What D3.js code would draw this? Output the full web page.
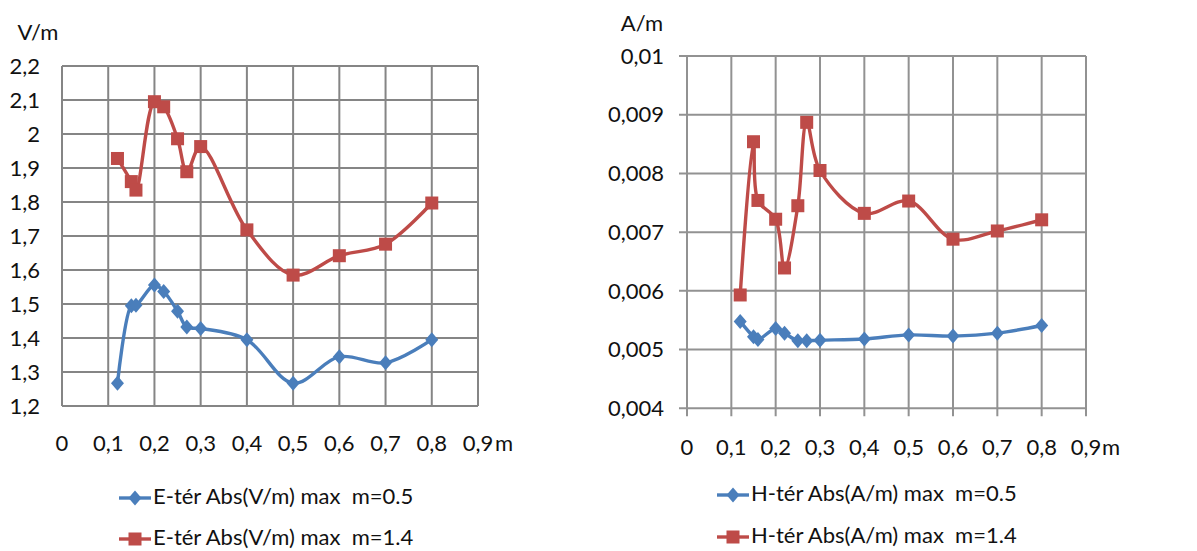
<!DOCTYPE html>
<html><head><meta charset="utf-8">
<script src="https://cdn.jsdelivr.net/npm/d3@7"></script>
<style>body{margin:0;background:#fff}svg{display:block}text{font-family:Lato,"Open Sans",sans-serif;fill:#111;white-space:pre}</style>
</head><body><svg id="c" width="1197" height="551"></svg>
<script>
const xs = [0.12,0.15,0.16,0.2,0.22,0.25,0.27,0.3,0.4,0.5,0.6,0.7,0.8];
const eLow = [1.267,1.495,1.496,1.556,1.537,1.479,1.432,1.428,1.395,1.267,1.345,1.327,1.395];
const eHigh = [1.928,1.860,1.835,2.095,2.080,1.986,1.889,1.963,1.718,1.585,1.642,1.676,1.797];
const hLow = [0.00548,0.00522,0.00517,0.00536,0.00528,0.00515,0.00515,0.00516,0.00518,0.00525,0.00523,0.00528,0.00541];
const hHigh = [0.00593,0.00854,0.00754,0.00722,0.00639,0.00745,0.00887,0.00805,0.00732,0.00753,0.00688,0.00702,0.00721];
const xTicks = [0,0.1,0.2,0.3,0.4,0.5,0.6,0.7,0.8,0.9];
const eTicks = [1.2,1.3,1.4,1.5,1.6,1.7,1.8,1.9,2.0,2.1,2.2];
const hTicks = [0.004,0.005,0.006,0.007,0.008,0.009,0.01];
const legendE = ["E-tér Abs(V/m) max  m=0.5","E-tér Abs(V/m) max  m=1.4"];
const legendH = ["H-tér Abs(A/m) max  m=0.5","H-tér Abs(A/m) max  m=1.4"];
const BLUE="#4a7ebb", RED="#be4b48";
const FS=22;
const svg = d3.select("#c");
const fmt = v => String(+v.toFixed(3)).replace(".", ",");

function chart(o){
  const g = svg.append("g");
  const x = d3.scaleLinear().domain([0,0.9]).range([o.x0,o.x1]);
  const y = d3.scaleLinear().domain(o.yd).range([o.y1,o.y0]);
  g.selectAll(".gx").data(xTicks).join("line")
    .attr("x1",d=>x(d)).attr("x2",d=>x(d)).attr("y1",o.y0).attr("y2",o.y1+o.tick)
    .attr("stroke",o.grid).attr("stroke-width",2);
  g.selectAll(".gy").data(o.ticks).join("line")
    .attr("x1",o.x0-o.tick).attr("x2",o.x1).attr("y1",d=>y(d)).attr("y2",d=>y(d))
    .attr("stroke",o.grid).attr("stroke-width",2);
  g.selectAll(".yl").data(o.ticks).join("text")
    .attr("x",o.ylx).attr("y",d=>y(d)).attr("dy","0.35em").attr("text-anchor","end")
    .attr("font-size",FS).text(d=>fmt(d));
  g.selectAll(".xl").data(xTicks).join("text")
    .attr("x",d=>x(d)).attr("y",o.xly).attr("text-anchor","middle")
    .attr("font-size",FS).text(d=>fmt(d));
  g.append("text").attr("x",x(0.9)+o.mdx).attr("y",o.xly).attr("font-size",FS).text("m");
  g.append("text").attr("x",o.unitX).attr("y",o.unitY).attr("text-anchor","middle").attr("font-size",FS).text(o.unit);
  const line = d3.line().x((d,i)=>x(xs[i])).y(d=>y(d)).curve(d3.curveCatmullRom.alpha(0.5));
  const series = [{v:o.low,c:BLUE,m:"d"},{v:o.high,c:RED,m:"s"}];
  series.forEach(s=>{
    g.append("path").attr("d",line(s.v)).attr("fill","none").attr("stroke",s.c).attr("stroke-width",3.4);
  });
  series.forEach(s=>{
    g.selectAll(null).data(s.v).join(s.m==="d"?"path":"rect")
      .each(function(d,i){
        const el=d3.select(this), cx=x(xs[i]), cy=y(d);
        if(s.m==="d") el.attr("d","M0,-7.5L6.5,0L0,7.5L-6.5,0Z").attr("transform",`translate(${cx},${cy})`);
        else el.attr("x",cx-6.5).attr("y",cy-6.5).attr("width",13).attr("height",13);
      }).attr("fill",s.c);
  });
  series.forEach((s,i)=>{
    const ly = o.legY[i];
    g.append("line").attr("x1",o.legX).attr("x2",o.legX+32).attr("y1",ly).attr("y2",ly).attr("stroke",s.c).attr("stroke-width",3.4);
    const mx=o.legX+16;
    if(s.m==="d") g.append("path").attr("d","M0,-7.5L6.5,0L0,7.5L-6.5,0Z").attr("transform",`translate(${mx},${ly})`).attr("fill",s.c);
    else g.append("rect").attr("x",mx-6.5).attr("y",ly-6.5).attr("width",13).attr("height",13).attr("fill",s.c);
    g.append("text").attr("x",o.legX+34).attr("y",ly+6).attr("font-size",FS).text(o.leg[i]);
  });
}

chart({x0:62,x1:478,y0:66,y1:406,yd:[1.2,2.2],ticks:eTicks,low:eLow,high:eHigh,
  grid:"#858585",tick:0,ylx:40,xly:451,mdx:17,unit:"V/m",unitX:38,unitY:40,
  legX:119,legY:[498,539],leg:legendE});
chart({x0:687,x1:1086,y0:56,y1:408.3,yd:[0.004,0.01],ticks:hTicks,low:hLow,high:hHigh,
  grid:"#929292",tick:8,ylx:664,xly:455,mdx:16,unit:"A/m",unitX:642,unitY:31,
  legX:717,legY:[495,537],leg:legendH});
</script></body></html>
